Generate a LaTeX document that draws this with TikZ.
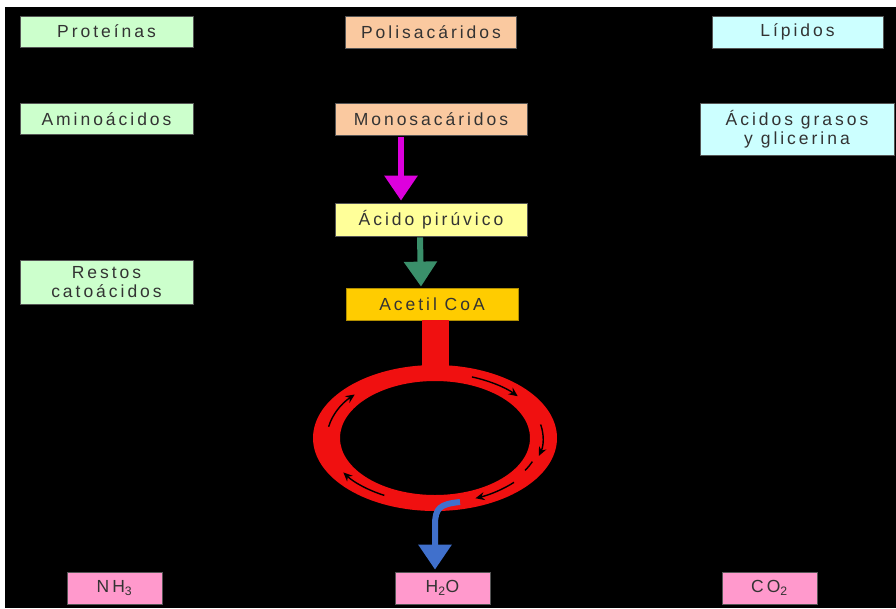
\documentclass[tikz,border=0pt]{standalone}
\usepackage{fontspec}
\setmainfont{Liberation Sans}[LetterSpace=17]
\usetikzlibrary{arrows.meta}

\definecolor{txtgray}{HTML}{333333}
\definecolor{boxline}{HTML}{555555}
\definecolor{verdeclaro}{HTML}{CCFFCC}
\definecolor{salmon}{HTML}{FAC9A0}
\definecolor{amarillo}{HTML}{FFFF99}
\definecolor{oro}{HTML}{FFCC00}
\definecolor{celeste}{HTML}{CCFFFF}
\definecolor{rosa}{HTML}{FF99CC}
\definecolor{anillo}{HTML}{F01010}
\definecolor{magenta2}{HTML}{DD00DD}
\definecolor{verdeazul}{HTML}{3A8F6A}
\definecolor{azul}{HTML}{4070CC}

\tikzset{
  caja/.style={draw=boxline, line width=0.8pt, text=txtgray, align=center,
    inner sep=0pt, font=\fontsize{17.5}{19.5}\selectfont},
  flecha/.style={line width=6pt, -{Triangle[length=25pt,width=32pt]}},
  giro/.style={black, line width=1.4pt, -{Stealth[length=9pt,width=8pt]}}
}

\begin{document}
\begin{tikzpicture}[x=1pt, y=-1pt]
\useasboundingbox (0,0) rectangle (896,608);
\fill[white] (0,0) rectangle (896,608);
\fill[black] (5,7) rectangle (896,608);
% izquierda
\node[caja, fill=verdeclaro, minimum width=173pt, minimum height=31pt] (prot) at (106.5,31.5) {Proteínas};
\node[caja, fill=verdeclaro, minimum width=173pt, minimum height=31pt] (amino) at (106.5,119) {Aminoácidos};
\node[caja, fill=verdeclaro, minimum width=173pt, minimum height=44pt] (restos) at (106.5,282) {Restos\\catoácidos};
% centro
\node[caja, fill=salmon, minimum width=171pt, minimum height=32pt] (polisac) at (431,32) {Polisacáridos};
\node[caja, fill=salmon, minimum width=192pt, minimum height=32pt] (monosac) at (431,119) {Monosacáridos};
\node[caja, fill=amarillo, minimum width=192pt, minimum height=33pt] (piruv) at (431,219.5) {Ácido pirúvico};
\node[caja, fill=oro, draw=oro!70!black, minimum width=172pt, minimum height=32pt] (acetil) at (432,304) {Acetil CoA};
% derecha
\node[caja, fill=celeste, minimum width=171pt, minimum height=32pt] (lip) at (797.5,32) {Lípidos};
\node[caja, fill=celeste, minimum width=194pt, minimum height=52pt] (acgras) at (797,129) {Ácidos grasos\\y glicerina};
% productos
\node[caja, fill=rosa, minimum width=95pt, minimum height=32pt] (nh) at (114.5,588) {NH\textsubscript{3}};
\node[caja, fill=rosa, minimum width=95pt, minimum height=32pt] (agua) at (442.5,588) {H\textsubscript{2}O};
\node[caja, fill=rosa, minimum width=95pt, minimum height=32pt] (co) at (769.5,588) {CO\textsubscript{2}};
% flechas
\draw[flecha, magenta2] ([xshift=-30pt, yshift=-2pt]monosac.south) -- ([xshift=-30pt, yshift=2pt]piruv.north);
\draw[flecha, verdeazul] ([xshift=-11pt, yshift=-1pt]piruv.south) -- ([xshift=-11pt, yshift=1pt]acetil.north);
% ciclo
\fill[anillo] (422,320) rectangle (449,370);
\fill[anillo, even odd rule] (435,438) ellipse [x radius=122, y radius=73]
  (435,438) ellipse [x radius=95, y radius=57];
\foreach \a/\b in {-70/-40, -12/16, 43/68, 118/148, 190/222}
  \draw[giro] ({435+108*cos(\a)},{438+65*sin(\a)}) arc[start angle=\a, end angle=\b, x radius=108, y radius=65];
\draw[black, line width=1.4pt] ({435+105*cos(22)},{438+63*sin(22)}) arc[start angle=22, end angle=31, x radius=105, y radius=63];
\coordinate (salida) at (460,502);
\draw[flecha, azul] (salida) .. controls (440,504) and (435,508) .. (435,525) -- ([xshift=-7.5pt, yshift=2pt]agua.north);
\end{tikzpicture}
\end{document}
